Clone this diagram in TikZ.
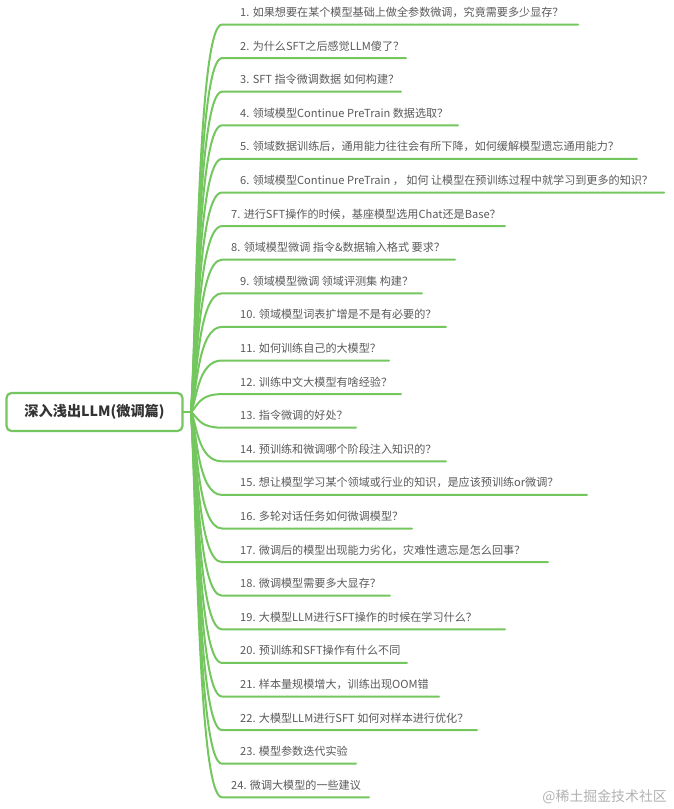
\documentclass[tikz,border=0pt]{standalone}
\usepackage{fontspec}
\newfontfamily\cjk{Noto Sans CJK SC}
\definecolor{lk}{HTML}{74C75F}
\definecolor{tx}{HTML}{5A5A5A}
\tikzset{
  x=1pt,y=-1pt,
  link/.style={draw=lk,line width=2pt,line cap=round},
  item/.style={anchor=base west,inner sep=0pt,text=tx,font=\cjk\fontsize{11.1}{13}\selectfont},
  rootbox/.style={draw=lk,line width=2.2pt,rounded corners=5pt,fill=white,minimum width=176pt,minimum height=38pt,inner sep=0pt,text=black!80,font=\cjk\bfseries\fontsize{14.2}{16}\selectfont},
}
\newcommand{\branch}[4]{%
  \coordinate (e#1) at (#3,{24.5+33.6*(#1-1)});
  \coordinate (s#1) at (222,{24.5+33.6*(#1-1)});
  \node[item] (t#1) at (#2,{24.5+33.6*(#1-1)-8}) {#4};
  \draw[link] (j) .. controls (197,{412+0.25*(24.5+33.6*(#1-1)-412)}) and (198,{24.5+33.6*(#1-1)}) .. (s#1) -- (e#1);
}
\begin{document}
\begin{tikzpicture}
\useasboundingbox (0,0) rectangle (673,809);
\fill[white] (0,0) rectangle (673,809);
\coordinate (j) at (191,412);
\branch{1}{240}{578}{1. 如果想要在某个模型基础上做全参数微调，究竟需要多少显存？}
\branch{2}{240}{406}{2. 为什么SFT之后感觉LLM傻了？}
\branch{3}{240}{401}{3. SFT 指令微调数据 如何构建？}
\branch{4}{240}{458}{4. 领域模型Continue PreTrain 数据选取？}
\branch{5}{240}{637}{5. 领域数据训练后，通用能力往往会有所下降，如何缓解模型遗忘通用能力？}
\branch{6}{240}{664}{6. 领域模型Continue PreTrain ， 如何 让模型在预训练过程中就学习到更多的知识？}
\branch{7}{231}{505}{7. 进行SFT操作的时候，基座模型选用Chat还是Base？}
\branch{8}{231}{455}{8. 领域模型微调 指令\&数据输入格式 要求？}
\branch{9}{240}{422}{9. 领域模型微调 领域评测集 构建？}
\branch{10}{240}{446}{10. 领域模型词表扩增是不是有必要的？}
\branch{11}{240}{389}{11. 如何训练自己的大模型？}
\branch{12}{240}{401}{12. 训练中文大模型有啥经验？}
\branch{13}{240}{356}{13. 指令微调的好处？}
\branch{14}{240}{446}{14. 预训练和微调哪个阶段注入知识的？}
\branch{15}{240}{587}{15. 想让模型学习某个领域或行业的知识，是应该预训练or微调？}
\branch{16}{240}{412}{16. 多轮对话任务如何微调模型？}
\branch{17}{240}{548}{17. 微调后的模型出现能力劣化，灾难性遗忘是怎么回事？}
\branch{18}{240}{390}{18. 微调模型需要多大显存？}
\branch{19}{240}{505}{19. 大模型LLM进行SFT操作的时候在学习什么？}
\branch{20}{240}{407}{20. 预训练和SFT操作有什么不同}
\branch{21}{240}{439}{21. 样本量规模增大，训练出现OOM错}
\branch{22}{240}{477}{22. 大模型LLM进行SFT 如何对样本进行优化？}
\branch{23}{240}{356}{23. 模型参数迭代实验}
\branch{24}{231}{369}{24. 微调大模型的一些建议}
\node[rootbox] (root) at (94.5,412) {深入浅出LLM(微调篇)};
\draw[link] (root.east) -- (j);
\node[anchor=base east,inner sep=0pt,text=black!30,font=\cjk\fontsize{13.9}{15}\selectfont] (wm) at (667,801) {@稀土掘金技术社区};
\end{tikzpicture}
\end{document}
